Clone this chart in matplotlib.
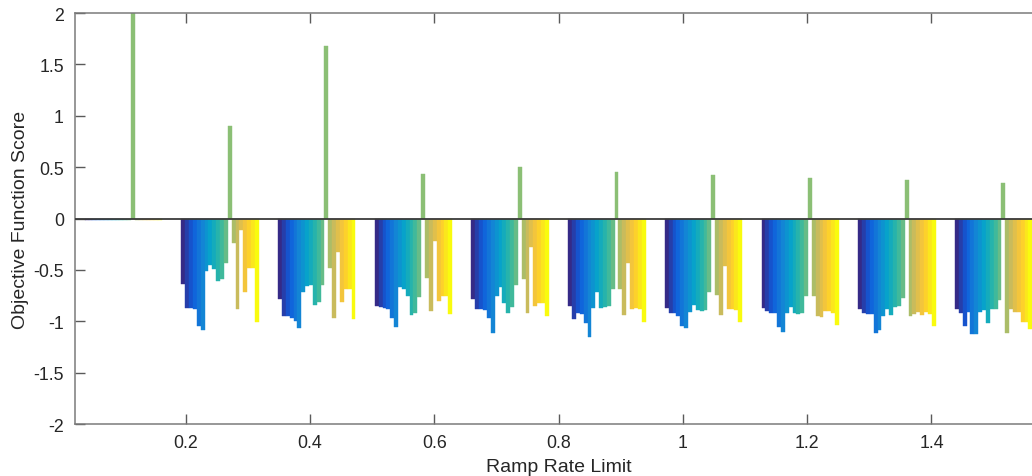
import numpy as np
import matplotlib
matplotlib.use("Agg")
import matplotlib.pyplot as plt
from matplotlib.colors import LinearSegmentedColormap

plt.rcParams["font.family"] = ["Liberation Sans", "DejaVu Sans"]

# ramp rate limits (group centres) and objective scores, one list per group (20 series each)
ramp_rate = [0.1, 0.2556, 0.4111, 0.5667, 0.7222, 0.8778, 1.0333, 1.1889, 1.3444, 1.5]

g01 = [-0.01, -0.01, -0.01, -0.01, -0.01, -0.01, -0.01, -0.01, -0.01, -0.01,
       -0.01, -0.01, 2.0, -0.01, -0.01, -0.01, -0.01, -0.01, -0.01, -0.01]
g02 = [-0.64, -0.87, -0.87, -0.88, -1.05, -1.09, -0.51, -0.45, -0.49, -0.61,
       -0.59, -0.43, 0.90, -0.24, -0.88, -0.11, -0.72, -0.48, -0.48, -1.01]
g03 = [-0.78, -0.95, -0.95, -0.97, -1.00, -1.07, -0.72, -0.66, -0.65, -0.84,
       -0.81, -0.65, 1.68, -0.48, -0.97, -0.33, -0.81, -0.69, -0.69, -0.98]
g04 = [-0.85, -0.86, -0.87, -0.88, -0.97, -1.06, -0.67, -0.69, -0.755, -0.94,
       -0.92, -0.76, 0.43, -0.58, -0.90, -0.22, -0.80, -0.75, -0.75, -0.93]
g05 = [-0.78, -0.88, -0.88, -0.89, -0.97, -1.11, -0.75, -0.67, -0.82, -0.92,
       -0.86, -0.65, 0.50, -0.585, -0.92, -0.28, -0.85, -0.82, -0.82, -0.95]
g06 = [-0.85, -0.98, -0.92, -0.93, -1.02, -1.15, -0.87, -0.72, -0.87, -0.86,
       -0.85, -0.69, 0.45, -0.69, -0.94, -0.43, -0.885, -0.87, -0.885, -1.01]
g07 = [-0.87, -0.92, -0.92, -0.95, -1.05, -1.07, -0.91, -0.84, -0.89, -0.90,
       -0.89, -0.72, 0.42, -0.74, -0.94, -0.46, -0.885, -0.885, -0.89, -1.01]
g08 = [-0.87, -0.90, -0.92, -0.92, -1.06, -1.10, -0.92, -0.86, -0.92, -0.93,
       -0.92, -0.75, 0.39, -0.75, -0.95, -0.96, -0.90, -0.90, -0.92, -1.04]
g09 = [-0.88, -0.92, -0.93, -0.93, -1.11, -1.09, -0.95, -0.88, -0.94, -0.86,
       -0.85, -0.77, 0.37, -0.95, -0.93, -0.91, -0.94, -0.91, -0.93, -1.05]
g10 = [-0.88, -0.92, -1.05, -0.91, -1.12, -1.12, -0.91, -0.89, -1.02, -0.885,
       -0.88, -0.79, 0.35, -1.11, -0.885, -0.91, -0.91, -1.01, -1.01, -1.08]

y_ticks = [-2, -1.5, -1, -0.5, 0, 0.5, 1, 1.5, 2]
y_tick_labels = ["-2", "-1.5", "-1", "-0.5", "0", "0.5", "1", "1.5", "2"]
x_ticks = [0.2, 0.4, 0.6, 0.8, 1.0, 1.2, 1.4]
x_tick_labels = ["0.2", "0.4", "0.6", "0.8", "1", "1.2", "1.4"]

scores = np.array([g01, g02, g03, g04, g05, g06, g07, g08, g09, g10])
n_groups, n_series = scores.shape

# parula-like colormap
parula = LinearSegmentedColormap.from_list("parula", [
    "#352a87", "#0f5cdd", "#1481d6", "#06a4ca", "#2eb7a4",
    "#87bf77", "#d1bb59", "#fec832", "#f9fb0e"])

fig = plt.figure(figsize=(10.32, 4.77), dpi=100, facecolor="white")
# axes runs past the right edge of the picture, as in the reference
ax = fig.add_axes([75 / 1032, 52 / 477, 967 / 1032, 411 / 477])

x = np.array(ramp_rate)
spacing = x[1] - x[0]
group_w = 0.8 * spacing
slot = group_w / n_series
for j in range(n_series):
    col = parula(j / (n_series - 1))
    offs = -group_w / 2 + slot * (j + 0.5)
    ax.bar(x + offs, scores[:, j], width=slot, color=col,
           edgecolor=col, linewidth=0.3, zorder=2)

ax.axhline(0, color="#3a3a3a", linewidth=1.3, zorder=3)

ax.set_xlim(x[0] - spacing / 2, x[-1] + spacing / 2)
ax.set_ylim(-2, 2)
ax.set_xticks(x_ticks)
ax.set_xticklabels(x_tick_labels)
ax.set_yticks(y_ticks)
ax.set_yticklabels(y_tick_labels)

for s in ax.spines.values():
    s.set_color("#7a7a7a")
    s.set_linewidth(1.1)
ax.tick_params(direction="in", length=7, width=1.0, color="#5a5a5a",
               labelsize=12.8, labelcolor="#262626", top=True, right=True)
ax.tick_params(axis="x", pad=7)
ax.tick_params(axis="y", pad=8)

ax.set_xlabel("Ramp Rate Limit", fontsize=14, color="#262626", labelpad=5)
ax.set_ylabel("Objective Function Score", fontsize=14, color="#262626", labelpad=3)

fig.savefig("out.png", dpi=100, facecolor="white")
